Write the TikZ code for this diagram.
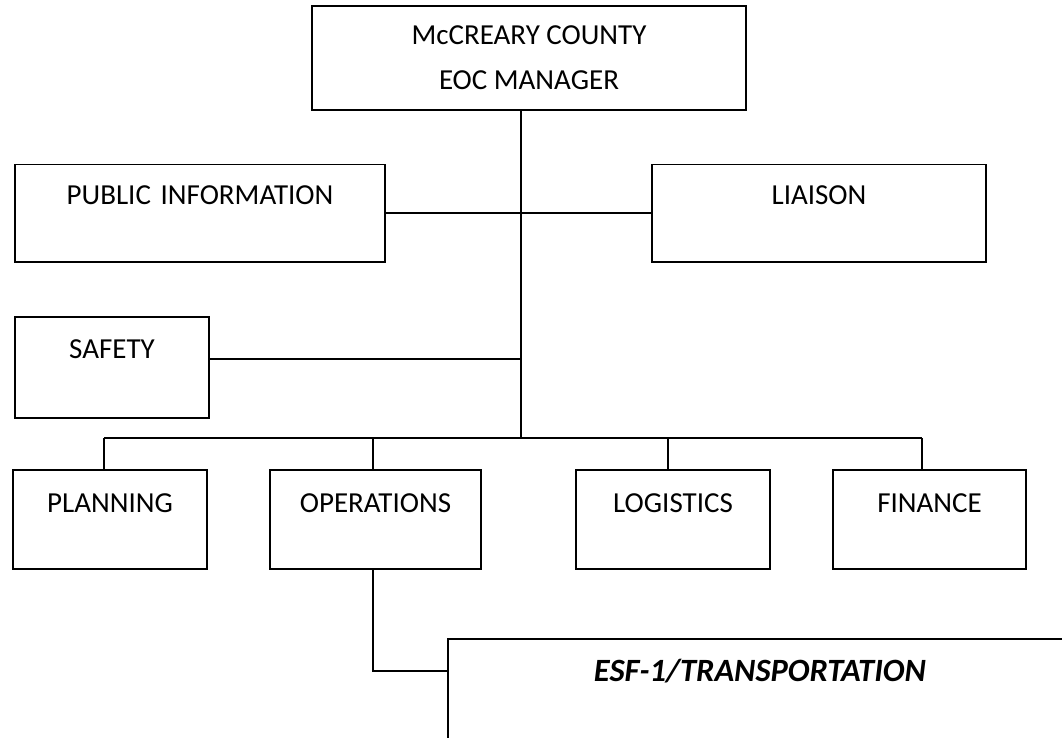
\documentclass[tikz,border=0pt]{standalone}
\usepackage{fontspec}
\setmainfont{Carlito}
\begin{document}
\begin{tikzpicture}[x=1pt,y=-1pt,
  box/.style={draw=black,line width=1.5pt,inner xsep=0pt,inner ysep=0pt,align=center,font=\fontsize{29}{45}\selectfont},
  topbox/.style={box,minimum width=434pt,minimum height=104pt},
  wide/.style={box,minimum width=#1pt,text width=#1pt},
  conn/.style={line width=1.5pt,black}]
\useasboundingbox (0,0) rectangle (1062,738);
\clip (0,0) rectangle (1062,738);
% boxes
\node[topbox] (top) at (529,58) {McCREARY COUNTY\\EOC MANAGER};
\node[wide=370,text height=39.3pt,text depth=57.7pt,anchor=north] (pub) at (200,164) {PUBLIC INFORMATION};
\node[wide=334,text height=39.3pt,text depth=57.7pt,anchor=north] (lia) at (819,164) {LIAISON};
\node[wide=194,text height=41.3pt,text depth=59.7pt,anchor=north] (saf) at (112,316) {SAFETY};
\node[wide=194,text height=42.3pt,text depth=56.7pt,anchor=north] (plan) at (110,469) {PLANNING};
\node[wide=211,text height=42.3pt,text depth=56.7pt,anchor=north] (ops) at (375.5,469) {OPERATIONS};
\node[wide=194,text height=42.3pt,text depth=56.7pt,anchor=north] (log) at (673,469) {LOGISTICS};
\node[wide=193,text height=42.3pt,text depth=56.7pt,anchor=north] (fin) at (929.5,469) {FINANCE};
\node[wide=624,text height=42.5pt,text depth=80pt,anchor=north,font=\fontsize{32.5}{38}\selectfont\bfseries\itshape] (esf) at (760,638) {ESF-1/TRANSPORTATION};
% connector coordinates
\coordinate (trunk) at (521,438);
\coordinate (pl) at (521,213);
\coordinate (sf) at (521,359);
\coordinate (bL) at (104,438);
\coordinate (bO) at (373,438);
\coordinate (bG) at (668,438);
\coordinate (bR) at (922,438);
\coordinate (e1) at (373,671);
% connectors
\draw[conn] (top.south -| trunk) -- (trunk);
\draw[conn] (pl -| pub.east) -- (pl -| lia.west);
\draw[conn] (sf -| saf.east) -- (sf);
\draw[conn] (bL) -- (bR);
\draw[conn] (bL) -- (bL |- plan.north);
\draw[conn] (bO) -- (bO |- ops.north);
\draw[conn] (bG) -- (bG |- log.north);
\draw[conn] (bR) -- (bR |- fin.north);
\draw[conn] (e1 |- ops.south) -- (e1) -- (e1 -| esf.west);
\end{tikzpicture}
\end{document}
